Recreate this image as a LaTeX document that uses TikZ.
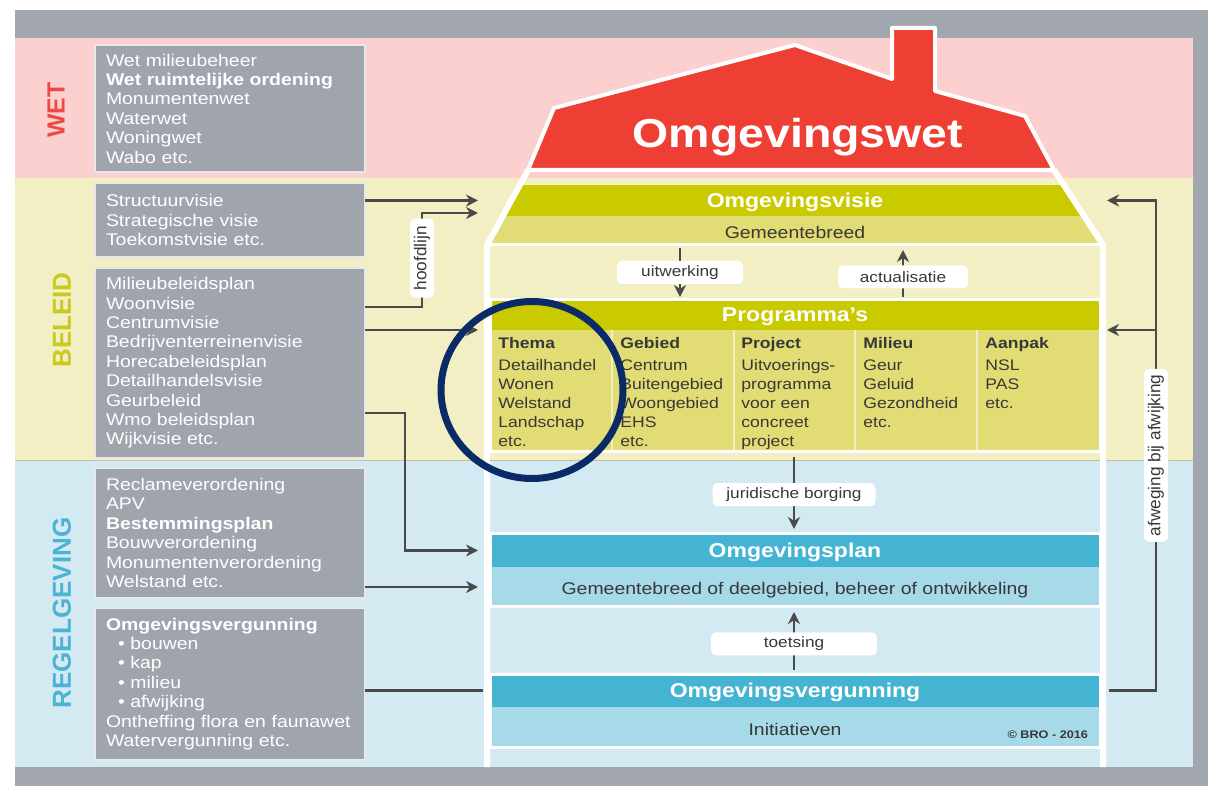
\documentclass[tikz,border=0pt]{standalone}
\usepackage{fontspec}
\setmainfont{Liberation Sans}[FakeStretch=1.15]
\newfontfamily\uprightsans{Liberation Sans}
\usepackage{xcolor}
\usepackage{tikz}
\usetikzlibrary{
  positioning,
  calc,
  arrows.meta
}

\definecolor{framegray}{HTML}{A2A6AE}
\definecolor{wetpink}{HTML}{FBD0CE}
\definecolor{beleidbg}{HTML}{F2EFC4}
\definecolor{regelbg}{HTML}{D3EAF2}
\definecolor{boxgray}{HTML}{A0A4AC}
\definecolor{roofred}{HTML}{EE3F34}
\definecolor{wetred}{HTML}{EB4B45}
\definecolor{beleidtxt}{HTML}{C9C91E}
\definecolor{regeltxt}{HTML}{4DB3D4}
\definecolor{bandyellow}{HTML}{CACA00}
\definecolor{subyellow}{HTML}{E1DC74}
\definecolor{bandblue}{HTML}{45B4D3}
\definecolor{subblue}{HTML}{A6DAE9}
\definecolor{arrowgray}{HTML}{4A4A4A}
\definecolor{darktext}{HTML}{383838}
\definecolor{circlenavy}{HTML}{0B2A68}

\begin{document}
\begin{tikzpicture}[x=0.5pt, y=-0.5pt,
    lawbox/.style={anchor=north west, fill=boxgray, draw=white!75!boxgray, line width=0.8pt,
      outer sep=0pt, inner xsep=5.5pt, inner ysep=0pt, text width=124pt, minimum height=#1,
      align=left, text=white, font=\fontsize{8.45}{9.7}\selectfont},
    sidelabel/.style={rotate=90, font=\uprightsans\bfseries\fontsize{13}{15}\selectfont},
    band/.style={minimum width=305pt, minimum height=#1, inner sep=0pt, outer sep=0pt},
    bandtitle/.style={band=#1, text=white, text height=7pt, text depth=0pt,
      font=\bfseries\fontsize{10}{12}\selectfont},
    bandsub/.style={band=#1, text=darktext, text height=8pt, text depth=0pt,
      font=\fontsize{8.45}{10}\selectfont},
    coltext/.style={anchor=north west, inner sep=0pt, align=left, text=darktext,
      font=\fontsize{7.65}{9.5}\selectfont},
    lbl/.style={fill=white, rounded corners=2.5pt, inner sep=0pt, minimum height=11.5pt,
      minimum width=#1, text=darktext, font=\fontsize{7.5}{9}\selectfont},
    vlbl/.style={lbl=#1, rotate=90, minimum height=12pt, font=\uprightsans\fontsize{8.6}{10}\selectfont},
    conn/.style={draw=arrowgray, line width=1.4pt},
    arr/.style={conn, -{Stealth[length=6pt, width=6pt]}},
    wall/.style={draw=white, line width=3pt}
  ]
      \useasboundingbox (0,0) rectangle (1212,786);

      % Frame and bands
      \fill[framegray] (15,10) rectangle (1208,786);
      \fill[wetpink] (15,38) rectangle (1193,178);
      \fill[beleidbg] (15,178) rectangle (1193,461);
      \fill[regelbg] (15,461) rectangle (1193,767);
      \draw[beleidbg!80!black, line width=0.5pt] (15,461) -- (1193,461);

      % Side labels
      \node[sidelabel, text=wetred, font=\uprightsans\bfseries\fontsize{12.4}{14}\selectfont] (wetlbl) at (56,110) {WET};
      \node[sidelabel, text=beleidtxt] (beleidlbl) at (62,320) {BELEID};
      \node[sidelabel, text=regeltxt] (regellbl) at (62,613) {REGELGEVING};

      % Grey boxes
      \node[lawbox=63.5pt] (wetbox) at (95,45) {Wet milieubeheer\\\textbf{Wet ruimtelijke ordening}\\Monumentenwet\\Waterwet\\Woningwet\\Wabo etc.};
      \node[lawbox=37pt] (visiebox) at (95,183) {Structuurvisie\\Strategische visie\\Toekomstvisie etc.};
      \node[lawbox=95pt] (planbox) at (95,268) {Milieubeleidsplan\\Woonvisie\\Centrumvisie\\Bedrijventerreinenvisie\\Horecabeleidsplan\\Detailhandelsvisie\\Geurbeleid\\Wmo beleidsplan\\Wijkvisie etc.};
      \node[lawbox=65pt] (regelbox) at (95,468) {Reclameverordening\\APV\\\textbf{Bestemmingsplan}\\Bouwverordening\\Monumentenverordening\\Welstand etc.};
      \node[lawbox=76pt] (vergbox) at (95,608) {\textbf{Omgevingsvergunning}\\\hspace*{6pt}• bouwen\\\hspace*{6pt}• kap\\\hspace*{6pt}• milieu\\\hspace*{6pt}• afwijking\\Ontheffing flora en faunawet\\Watervergunning etc.};

      % Sloped part of the house
      \begin{scope}
        \clip (528,170) -- (1054,170) -- (1103,245) -- (1103,767) -- (487,767) -- (487,245) -- cycle;
        \fill[bandyellow] (487,185) rectangle (1103,216);
        \fill[subyellow] (487,216) rectangle (1103,245);
      \end{scope}

      % Bands in the house
      \node[bandtitle=15.5pt] (visie) at (795,200.5) {Omgevingsvisie};
      \node[bandsub=14.5pt] (gemeente) at (795,230.5) {Gemeentebreed};
      \node[bandtitle=15pt, fill=bandyellow] (programmas) at (795,315) {Programma's};
      \node[band=61pt, fill=subyellow] (progcols) at (795,391) {};
      \node[bandtitle=16.5pt, fill=bandblue] (omgplan) at (795,550.5) {Omgevingsplan};
      \node[bandsub=20pt, fill=subblue] (omgplansub) at (795,587) {Gemeentebreed of deelgebied, beheer of ontwikkeling};
      \node[bandtitle=16.5pt, fill=bandblue] (omgverg) at (795,690.5) {Omgevingsvergunning};
      \node[bandsub=20pt, fill=subblue] (initiatief) at (795,727) {Initiatieven};
      \node[anchor=base east, text=darktext, font=\bfseries\fontsize{5.5}{7}\selectfont] (brolbl) at ([xshift=-2.5pt, yshift=-5.5pt]initiatief.east) {© BRO - 2016};

      % Programma columns
      \foreach \sx in {612,734,855,977}
        \draw[beleidbg, line width=1pt] (\sx,330) -- (\sx,452);
      \node[coltext] (thema) at (498,337) {\textbf{Thema}\\[1.5pt]Detailhandel\\Wonen\\Welstand\\Landschap\\etc.};
      \node[coltext] (gebied) at (620,337) {\textbf{Gebied}\\[1.5pt]Centrum\\Buitengebied\\Woongebied\\EHS\\etc.};
      \node[coltext] (project) at (741,337) {\textbf{Project}\\[1.5pt]Uitvoerings-\\programma\\voor een\\concreet\\project};
      \node[coltext] (milieu) at (863,337) {\textbf{Milieu}\\[1.5pt]Geur\\Geluid\\Gezondheid\\etc.};
      \node[coltext] (aanpak) at (985,337) {\textbf{Aanpak}\\[1.5pt]NSL\\PAS\\etc.};

      % White edges
      \draw[white, line width=1.5pt] (gemeente.south west) -- (gemeente.south east);
      \draw[white, line width=1.5pt] (programmas.north west) rectangle (progcols.south east);
      \draw[white, line width=1.5pt] (omgplan.north west) rectangle (omgplansub.south east);
      \draw[white, line width=1.5pt] (omgverg.north west) rectangle (initiatief.south east);
      \draw[wall] (528,170) -- (487,245) -- (487,767);
      \draw[wall] (1054,170) -- (1103,245) -- (1103,767);

      % Roof
      \draw[fill=roofred, draw=white, line width=2pt, line join=round] (528,170) -- (554,108) -- (795,45) -- (892,79) -- (892,28) -- (935,28) -- (935,91) -- (1025,116) -- (1054,170) -- cycle;
      \node[anchor=base, text=white, font=\bfseries\fontsize{20.2}{24}\selectfont] (omgwet) at (798,148) {Omgevingswet};

      % Bend points
      \coordinate (hoofdtop) at (422,213);
      \coordinate (wmox) at (405,0);
      \coordinate (afwx) at (1156,0);
      \coordinate (uitx) at (680,0);
      \coordinate (actx) at (903,0);
      \coordinate (midx) at (794,0);

      % Arrows from the left
      \draw[arr, shorten >=6pt] (visiebox.east |- visie.west) -- (visie.west);
      \draw[arr, shorten >=6pt] ([yshift=-19.5pt]planbox.north east) -| node[pos=0.76, vlbl=39.5pt] (hoofdlbl) {hoofdlijn} (hoofdtop) -- (hoofdtop -| visie.west);
      \draw[arr, shorten >=6pt] (planbox.east |- progcols.north west) -- (progcols.north west);
      \draw[arr, shorten >=6pt] ([yshift=22.5pt]planbox.south east) -| (wmox |- omgplan.west) -- (omgplan.west);
      \draw[arr, shorten >=6pt] (regelbox.east |- omgplansub.west) -- (omgplansub.west);
      \draw[conn, shorten >=3.5pt] (vergbox.east |- omgverg.west) -- (omgverg.west);

      % Arrows on the right
      \draw[arr, shorten <=4.5pt, shorten >=3.5pt] (omgverg.east) -| node[pos=0.74, vlbl=86.5pt] (afwlbl) {afweging bij afwijking} (afwx |- visie.east) -- (visie.east);
      \draw[arr, shorten >=3.5pt] (afwx |- progcols.north east) -- (progcols.north east);

      % Arrows in the house
      \draw[arr, shorten <=1.5pt, shorten >=1.5pt] (gemeente.south -| uitx) -- node[lbl=63pt] (uitwlbl) {uitwerking} (programmas.north -| uitx);
      \draw[arr, shorten <=1.5pt, shorten >=2.5pt] (programmas.north -| actx) -- node[pos=0.42, lbl=65pt] (actlbl) {actualisatie} (gemeente.south -| actx);
      \draw[arr, shorten <=2.5pt, shorten >=2.5pt] (progcols.south -| midx) -- node[pos=0.52, lbl=81.5pt] (jurlbl) {juridische borging} (omgplan.north -| midx);
      \draw[arr, shorten <=2pt, shorten >=2.5pt] (omgverg.north -| midx) -- node[pos=0.45, lbl=83pt] (toetslbl) {toetsing} (omgplansub.south -| midx);

      % Circle round Thema
      \draw[circlenavy, line width=3.5pt] (532,390) ellipse [x radius=91, y radius=88.5];
    \end{tikzpicture}
\end{document}
